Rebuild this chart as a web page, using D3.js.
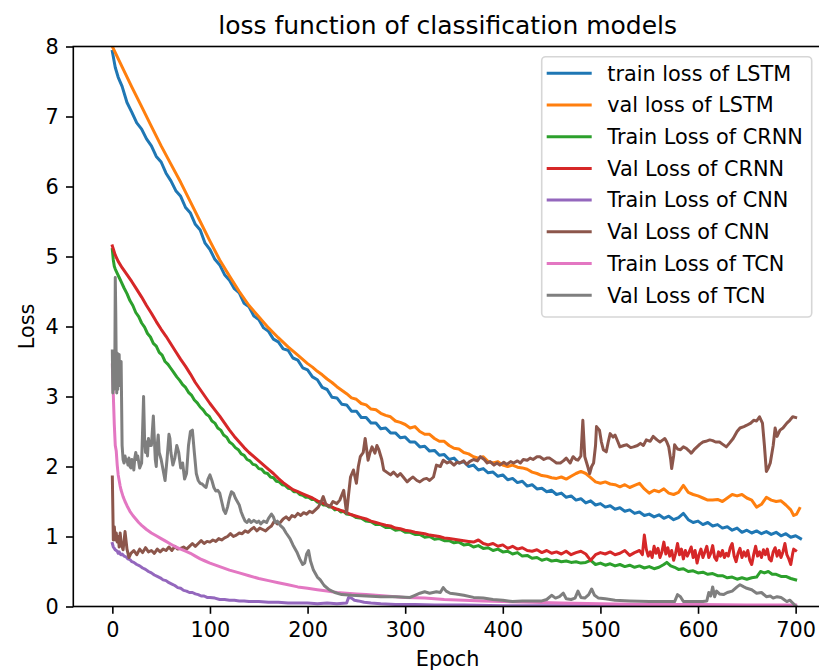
<!DOCTYPE html>
<html lang="en">
<head>
<meta charset="utf-8">
<title>loss function of classification models</title>
<style>
body { margin: 0; background: #fff; }
svg text { font-family: "DejaVu Sans", sans-serif; fill: #000; }
</style>
</head>
<body>
<script src="https://d3js.org/d3.v7.min.js"></script>
<script>

// legend labels, in plotting order
var seriesNames = ["train loss of LSTM", "val loss of LSTM", "Train Loss of CRNN", "Val Loss of CRNN",
                   "Train Loss of CNN", "Val Loss of CNN", "Train Loss of TCN", "Val Loss of TCN"];
var seriesColors = ["#1f77b4", "#ff7f0e", "#2ca02c", "#d62728", "#9467bd", "#8c564b", "#e377c2", "#7f7f7f"];

var xTicks = [0, 100, 200, 300, 400, 500, 600, 700];
var yTicks = [0, 1, 2, 3, 4, 5, 6, 7, 8];

// [epoch, loss]
var lstmTrain = [[0,7.93],[3,7.70],[6,7.56],[10,7.43],[15,7.20],[20,7.06],[25,6.91],[30,6.82],[35,6.68],[40,6.58],[45,6.43],[50,6.35],[55,6.19],[60,6.08],[65,5.94],[70,5.86],[75,5.70],[80,5.62],[85,5.46],[90,5.38],[95,5.19],[100,5.10],[105,4.96],[110,4.88],[115,4.74],[120,4.66],[125,4.54],[130,4.48],[135,4.33],[140,4.28],[145,4.15],[150,4.10],[155,3.98],[160,3.93],[165,3.82],[170,3.78],[175,3.68],[180,3.66],[185,3.55],[190,3.52],[195,3.41],[200,3.38],[205,3.28],[210,3.24],[215,3.13],[220,3.10],[225,2.99],[230,2.98],[235,2.89],[240,2.88],[245,2.79],[250,2.79],[255,2.70],[260,2.70],[265,2.62],[270,2.62],[275,2.54],[280,2.55],[285,2.48],[290,2.48],[295,2.41],[300,2.42],[305,2.35],[310,2.35],[315,2.28],[320,2.29],[325,2.22],[330,2.23],[335,2.16],[340,2.17],[345,2.10],[350,2.12],[355,2.05],[360,2.07],[365,2.00],[370,2.02],[375,1.95],[380,1.97],[385,1.91],[390,1.92],[395,1.86],[400,1.88],[405,1.81],[410,1.83],[415,1.77],[420,1.79],[425,1.72],[430,1.74],[435,1.68],[440,1.69],[445,1.64],[450,1.66],[455,1.60],[460,1.62],[465,1.56],[470,1.58],[475,1.52],[480,1.54],[485,1.48],[490,1.51],[495,1.45],[500,1.47],[505,1.42],[510,1.44],[515,1.39],[520,1.41],[525,1.36],[530,1.38],[535,1.33],[540,1.35],[545,1.30],[550,1.32],[555,1.28],[560,1.31],[565,1.26],[570,1.29],[575,1.24],[580,1.27],[585,1.33],[590,1.24],[595,1.20],[600,1.22],[605,1.17],[610,1.20],[615,1.15],[620,1.17],[625,1.12],[630,1.14],[635,1.09],[640,1.12],[645,1.06],[650,1.09],[655,1.05],[660,1.08],[665,1.04],[670,1.07],[675,1.03],[680,1.06],[685,1.01],[690,1.04],[695,0.99],[700,1.01],[705,0.97]];

var lstmVal = [[0,8.0],[10,7.71],[20,7.42],[30,7.14],[40,6.86],[50,6.58],[60,6.32],[70,6.06],[80,5.78],[90,5.5],[100,5.22],[110,4.95],[120,4.72],[130,4.5],[140,4.3],[150,4.14],[160,3.98],[170,3.84],[180,3.71],[190,3.59],[200,3.47],[205,3.42],[210,3.36],[215,3.31],[220,3.25],[225,3.2],[230,3.14],[235,3.09],[240,3.04],[245,2.98],[250,2.96],[255,2.9],[260,2.88],[265,2.82],[270,2.81],[275,2.76],[280,2.73],[285,2.71],[290,2.65],[295,2.63],[300,2.6],[305,2.55],[310,2.57],[315,2.5],[320,2.46],[325,2.46],[330,2.4],[335,2.36],[340,2.36],[345,2.3],[350,2.26],[355,2.25],[360,2.2],[365,2.18],[370,2.14],[375,2.12],[380,2.14],[385,2.07],[390,2.05],[395,2.07],[400,2.02],[405,2.0],[410,2.02],[415,1.99],[420,1.98],[425,1.96],[430,1.92],[435,1.9],[440,1.87],[445,1.86],[450,1.84],[455,1.83],[460,1.85],[465,1.82],[470,1.86],[475,1.9],[480,1.93],[485,1.9],[490,1.84],[495,1.78],[500,1.76],[505,1.78],[510,1.75],[515,1.74],[520,1.71],[525,1.74],[530,1.7],[535,1.73],[540,1.76],[545,1.68],[550,1.62],[555,1.66],[560,1.64],[565,1.68],[570,1.62],[575,1.6],[580,1.63],[585,1.73],[590,1.63],[595,1.6],[600,1.58],[605,1.55],[610,1.52],[615,1.52],[620,1.53],[625,1.5],[630,1.55],[635,1.6],[640,1.58],[645,1.6],[650,1.55],[655,1.52],[660,1.42],[665,1.46],[670,1.56],[675,1.52],[680,1.5],[685,1.51],[690,1.45],[695,1.38],[698,1.3],[701,1.32],[704,1.4]];

var crnnTrain = [[0,5.1],[1,4.95],[2,4.86],[3,4.82],[5,4.76],[7,4.7],[9,4.64],[12,4.55],[15,4.47],[18,4.37],[21,4.3],[24,4.2],[27,4.14],[30,4.05],[33,3.99],[36,3.9],[39,3.85],[42,3.76],[45,3.72],[48,3.63],[51,3.59],[54,3.5],[57,3.46],[60,3.4],[63,3.34],[66,3.28],[69,3.23],[72,3.17],[75,3.13],[78,3.06],[81,3.02],[84,2.95],[87,2.91],[90,2.85],[93,2.81],[96,2.75],[99,2.72],[102,2.65],[105,2.62],[108,2.55],[111,2.52],[114,2.45],[117,2.42],[120,2.35],[123,2.32],[126,2.27],[129,2.24],[132,2.18],[135,2.16],[138,2.1],[141,2.08],[144,2.03],[147,2.02],[150,1.97],[153,1.96],[156,1.91],[159,1.9],[162,1.85],[165,1.84],[168,1.79],[171,1.78],[174,1.74],[177,1.73],[180,1.69],[183,1.68],[186,1.64],[189,1.64],[192,1.6],[195,1.59],[198,1.56],[201,1.56],[204,1.53],[207,1.53],[210,1.49],[213,1.49],[216,1.45],[219,1.45],[222,1.42],[225,1.42],[228,1.38],[231,1.39],[234,1.35],[237,1.36],[240,1.32],[245,1.31],[250,1.27],[255,1.26],[260,1.22],[265,1.21],[270,1.17],[275,1.17],[280,1.13],[285,1.13],[290,1.09],[295,1.1],[300,1.06],[305,1.06],[310,1.03],[315,1.03],[320,0.99],[325,1.0],[330,0.96],[335,0.97],[340,0.94],[345,0.94],[350,0.91],[355,0.92],[360,0.88],[365,0.89],[370,0.85],[375,0.87],[380,0.83],[385,0.84],[390,0.8],[395,0.82],[400,0.78],[405,0.79],[410,0.75],[415,0.77],[420,0.72],[425,0.73],[430,0.69],[435,0.7],[440,0.66],[445,0.68],[450,0.65],[455,0.66],[460,0.64],[465,0.65],[470,0.63],[475,0.64],[480,0.62],[485,0.63],[490,0.66],[495,0.6],[500,0.62],[505,0.59],[510,0.61],[515,0.58],[520,0.6],[525,0.57],[530,0.59],[535,0.56],[540,0.58],[545,0.55],[550,0.57],[555,0.54],[560,0.56],[565,0.6],[568,0.63],[572,0.58],[576,0.56],[580,0.53],[585,0.54],[590,0.5],[595,0.51],[600,0.48],[605,0.49],[610,0.46],[615,0.47],[620,0.44],[625,0.44],[630,0.41],[635,0.42],[640,0.39],[645,0.41],[650,0.39],[655,0.41],[660,0.42],[664,0.5],[668,0.48],[672,0.5],[676,0.46],[680,0.46],[685,0.43],[690,0.43],[695,0.4],[700,0.38]];

var crnnVal = [[0,5.15],[3,5.02],[6,4.93],[10,4.84],[15,4.74],[20,4.64],[25,4.53],[30,4.42],[35,4.3],[40,4.19],[45,4.07],[50,3.96],[55,3.86],[60,3.75],[65,3.64],[70,3.53],[75,3.43],[80,3.32],[85,3.2],[90,3.1],[95,3.0],[100,2.9],[105,2.81],[110,2.72],[115,2.62],[120,2.52],[125,2.43],[130,2.35],[135,2.27],[140,2.2],[145,2.14],[150,2.08],[155,2.02],[160,1.96],[165,1.9],[170,1.83],[175,1.77],[180,1.72],[185,1.67],[190,1.64],[195,1.61],[200,1.58],[205,1.55],[210,1.51],[215,1.48],[220,1.45],[225,1.42],[230,1.39],[235,1.37],[240,1.34],[245,1.31],[250,1.29],[255,1.27],[260,1.25],[265,1.22],[270,1.2],[275,1.18],[280,1.16],[285,1.15],[290,1.12],[295,1.11],[300,1.09],[305,1.08],[310,1.06],[315,1.05],[320,1.04],[325,1.02],[330,1.01],[335,1.0],[340,0.98],[345,0.97],[350,0.96],[355,0.95],[360,0.94],[365,0.93],[370,0.92],[375,0.95],[380,0.9],[385,0.88],[390,0.9],[395,0.86],[400,0.88],[405,0.83],[410,0.86],[415,0.82],[420,0.84],[425,0.8],[430,0.79],[435,0.81],[440,0.77],[445,0.8],[450,0.76],[455,0.78],[460,0.75],[465,0.79],[470,0.74],[475,0.77],[480,0.79],[485,0.75],[490,0.66],[495,0.74],[500,0.77],[505,0.75],[510,0.78],[515,0.74],[520,0.76],[525,0.8],[530,0.73],[535,0.77],[540,0.8],[543,0.74],[545,1.02],[547,0.82],[549,0.72],[551,0.78],[553,0.7],[555,0.86],[557,0.76],[559,0.83],[561,0.7],[563,0.78],[565,0.92],[567,0.75],[569,0.84],[571,0.72],[573,0.8],[575,0.66],[577,0.76],[579,0.9],[581,0.74],[583,0.82],[585,0.68],[587,0.8],[589,0.72],[591,0.78],[593,0.85],[595,0.7],[597,0.8],[599,0.62],[601,0.74],[603,0.82],[605,0.7],[607,0.78],[609,0.86],[611,0.7],[613,0.76],[615,0.87],[617,0.7],[619,0.66],[621,0.78],[623,0.72],[625,0.8],[627,0.7],[629,0.76],[631,0.72],[633,0.84],[635,0.9],[637,0.72],[639,0.64],[641,0.76],[643,0.83],[645,0.7],[647,0.78],[649,0.72],[651,0.8],[653,0.66],[655,0.6],[657,0.74],[659,0.86],[661,0.72],[663,0.78],[665,0.7],[667,0.81],[669,0.74],[671,0.82],[673,0.68],[675,0.65],[677,0.78],[679,0.84],[681,0.72],[683,0.8],[685,0.7],[687,0.78],[689,0.9],[691,0.74],[693,0.68],[695,0.6],[697,0.76],[698,0.82],[700,0.8]];

var cnnTrain = [[0,0.9],[1,0.85],[2,0.83],[3,0.81],[4,0.8],[5,0.79],[6,0.76],[7,0.78],[8,0.75],[9,0.74],[10,0.75],[12,0.72],[14,0.71],[16,0.68],[18,0.67],[20,0.64],[22,0.63],[25,0.6],[28,0.58],[31,0.55],[34,0.53],[37,0.5],[40,0.48],[43,0.45],[46,0.43],[49,0.41],[52,0.38],[55,0.37],[58,0.34],[61,0.32],[64,0.3],[67,0.27],[70,0.26],[73,0.23],[76,0.22],[79,0.2],[82,0.2],[85,0.18],[88,0.17],[91,0.15],[94,0.15],[97,0.13],[100,0.13],[105,0.12],[110,0.1],[115,0.1],[120,0.09],[125,0.09],[130,0.08],[135,0.08],[140,0.07],[150,0.07],[160,0.06],[170,0.06],[180,0.05],[190,0.05],[200,0.05],[210,0.04],[220,0.05],[230,0.04],[240,0.05],[242,0.13],[245,0.12],[248,0.09],[252,0.08],[258,0.06],[265,0.05],[275,0.04],[290,0.03],[310,0.03],[330,0.02],[360,0.02],[400,0.01],[500,0.01],[600,0.01],[700,0.01]];

var cnnVal = [[0,1.85],[1,0.95],[2,1.14],[3,0.95],[4,1.05],[5,0.92],[6,1.0],[7,0.85],[8,1.05],[9,0.9],[11,0.81],[13,1.07],[15,0.82],[17,0.7],[19,0.76],[22,0.8],[25,0.74],[28,0.82],[31,0.77],[34,0.84],[37,0.78],[40,0.8],[43,0.76],[46,0.82],[49,0.78],[52,0.82],[55,0.8],[58,0.85],[61,0.8],[64,0.86],[67,0.82],[70,0.83],[73,0.85],[76,0.82],[79,0.86],[82,0.9],[85,0.86],[88,0.9],[91,0.94],[94,0.9],[97,0.93],[100,0.92],[103,0.95],[106,0.93],[109,0.97],[112,0.95],[115,0.98],[118,1.0],[121,1.04],[124,1.0],[127,1.02],[130,1.05],[133,1.04],[136,1.08],[139,1.06],[142,1.1],[145,1.13],[148,1.08],[151,1.12],[154,1.1],[157,1.08],[160,1.12],[163,1.15],[166,1.22],[169,1.18],[172,1.2],[175,1.25],[178,1.28],[181,1.24],[184,1.3],[187,1.28],[190,1.33],[193,1.3],[196,1.34],[199,1.32],[202,1.36],[205,1.34],[208,1.38],[211,1.42],[214,1.5],[216,1.57],[219,1.45],[223,1.43],[226,1.5],[230,1.47],[233,1.52],[237,1.66],[240,1.33],[242,1.6],[244,1.85],[247,1.95],[250,1.76],[252,2.0],[254,2.14],[257,2.2],[259,2.4],[262,2.09],[264,2.2],[266,2.28],[269,2.19],[271,2.3],[273,2.24],[276,2.1],[278,1.95],[281,1.92],[285,1.88],[288,1.92],[292,1.86],[295,1.9],[298,1.85],[302,1.78],[305,1.82],[308,1.85],[312,1.8],[315,1.78],[319,1.82],[322,1.83],[325,1.8],[329,1.85],[332,2.02],[336,2.0],[339,2.09],[343,2.05],[346,2.07],[350,2.02],[353,2.06],[356,2.05],[360,2.08],[363,2.03],[366,2.07],[370,2.1],[374,2.08],[377,2.14],[381,2.1],[384,2.05],[387,2.07],[391,2.02],[394,2.05],[397,2.02],[401,2.06],[404,2.03],[408,2.07],[411,2.05],[415,2.08],[418,2.05],[421,2.1],[425,2.09],[428,2.12],[431,2.1],[435,2.14],[438,2.14],[442,2.1],[445,2.12],[448,2.12],[452,2.08],[455,2.05],[459,2.05],[462,2.08],[465,2.12],[469,2.05],[472,2.14],[475,2.1],[477,2.09],[480,2.15],[482,2.66],[484,2.14],[487,2.0],[489,1.9],[491,2.0],[493,2.05],[495,2.3],[496,2.57],[499,2.52],[501,2.35],[503,2.24],[506,2.21],[508,2.35],[510,2.47],[513,2.42],[515,2.45],[518,2.35],[520,2.28],[524,2.3],[527,2.31],[531,2.27],[534,2.28],[538,2.3],[541,2.33],[544,2.3],[547,2.38],[551,2.36],[554,2.43],[558,2.38],[561,2.35],[564,2.38],[566,2.4],[568,2.35],[570,2.28],[572,2.1],[573,1.97],[575,2.15],[576,2.31],[579,2.25],[582,2.24],[585,2.28],[588,2.26],[591,2.22],[593,2.19],[596,2.24],[599,2.28],[602,2.32],[605,2.35],[608,2.36],[612,2.38],[615,2.37],[618,2.35],[622,2.35],[625,2.32],[629,2.28],[632,2.33],[636,2.4],[640,2.5],[643,2.55],[647,2.57],[650,2.59],[654,2.62],[657,2.66],[660,2.65],[663,2.71],[666,2.62],[668,2.3],[670,1.93],[672,1.98],[674,2.05],[677,2.3],[679,2.55],[681,2.43],[684,2.52],[687,2.55],[691,2.62],[694,2.66],[697,2.71],[700,2.7]];

var tcnTrain = [[0,3.45],[1,3.02],[2,2.6],[3,2.3],[4,2.22],[5,2.02],[6,1.88],[7,1.8],[8,1.72],[9,1.66],[11,1.57],[13,1.5],[15,1.44],[18,1.36],[21,1.3],[24,1.25],[27,1.2],[30,1.16],[35,1.1],[40,1.05],[45,1.01],[50,0.97],[55,0.93],[60,0.89],[65,0.85],[70,0.82],[75,0.79],[80,0.76],[85,0.72],[90,0.68],[95,0.65],[100,0.62],[110,0.57],[120,0.52],[130,0.48],[140,0.44],[150,0.4],[160,0.37],[170,0.34],[180,0.31],[190,0.28],[200,0.26],[210,0.24],[220,0.22],[230,0.2],[240,0.19],[250,0.18],[260,0.17],[270,0.16],[280,0.15],[300,0.13],[320,0.12],[340,0.1],[360,0.09],[380,0.08],[400,0.07],[430,0.06],[460,0.05],[500,0.04],[550,0.03],[600,0.03],[650,0.02],[700,0.02]];

var tcnVal = [[0,3.65],[0.5,3.05],[1,3.6],[1.5,3.1],[2,3.65],[2.5,3.3],[3,4.7],[3.5,4.2],[4,3.4],[4.5,3.05],[5,3.62],[5.5,3.1],[6,3.55],[6.5,3.15],[7,3.6],[7.5,3.2],[8,3.5],[8.5,3.25],[9,3.5],[10,2.3],[11,2.1],[12,2.05],[13,2.15],[14,2.08],[15,2.1],[16,2.02],[17,2.12],[18,2.0],[19,1.98],[20,2.1],[21,2.05],[22,1.95],[23,2.12],[24,2.2],[25,2.1],[26,2.15],[28,1.98],[30,2.05],[32,3.0],[33,2.4],[34,2.2],[35,2.35],[36,2.15],[37,2.4],[38,2.3],[40,2.3],[42,2.72],[43,2.4],[44,2.1],[45,2.0],[46,2.3],[47,2.45],[48,2.2],[50,2.1],[52,1.95],[54,1.8],[56,2.1],[58,2.46],[59,2.4],[60,2.2],[62,2.02],[64,2.12],[66,2.3],[68,2.2],[70,1.98],[72,2.05],[74,1.82],[76,1.9],[78,2.3],[80,2.5],[82,2.52],[84,2.2],[86,1.9],[88,1.8],[90,1.76],[92,1.75],[94,1.72],[96,1.7],[98,1.82],[100,1.88],[102,1.8],[104,1.7],[106,1.65],[108,1.66],[110,1.62],[112,1.5],[114,1.38],[116,1.33],[118,1.42],[120,1.55],[122,1.64],[124,1.62],[126,1.55],[128,1.5],[130,1.45],[132,1.35],[134,1.28],[136,1.22],[138,1.2],[140,1.24],[142,1.2],[145,1.23],[148,1.2],[150,1.22],[152,1.18],[155,1.22],[158,1.2],[160,1.26],[163,1.32],[165,1.28],[167,1.2],[169,1.22],[172,1.16],[175,1.12],[178,1.05],[182,0.97],[185,0.88],[189,0.78],[192,0.68],[195,0.6],[197,0.62],[199,0.75],[201,0.8],[203,0.65],[206,0.52],[210,0.42],[213,0.38],[217,0.3],[222,0.24],[228,0.2],[235,0.17],[245,0.16],[260,0.15],[275,0.14],[290,0.14],[305,0.13],[310,0.16],[315,0.19],[320,0.21],[325,0.19],[332,0.21],[336,0.2],[339,0.27],[342,0.22],[346,0.19],[352,0.18],[360,0.16],[370,0.13],[380,0.12],[390,0.1],[400,0.09],[410,0.07],[420,0.08],[430,0.08],[440,0.08],[445,0.1],[450,0.16],[454,0.12],[458,0.14],[462,0.19],[465,0.11],[470,0.1],[474,0.12],[477,0.22],[480,0.13],[484,0.12],[488,0.17],[491,0.25],[494,0.16],[498,0.12],[505,0.11],[515,0.09],[530,0.08],[550,0.07],[570,0.07],[576,0.07],[579,0.17],[582,0.14],[585,0.07],[595,0.07],[605,0.07],[609,0.08],[611,0.2],[613,0.15],[615,0.28],[617,0.14],[619,0.22],[622,0.18],[626,0.17],[630,0.2],[635,0.22],[640,0.28],[643,0.31],[647,0.28],[650,0.26],[655,0.24],[660,0.19],[665,0.2],[670,0.14],[674,0.15],[677,0.12],[681,0.14],[685,0.13],[688,0.1],[691,0.07],[694,0.09],[697,0.05],[700,0.01]];

var seriesData = [lstmTrain, lstmVal, crnnTrain, crnnVal, cnnTrain, cnnVal, tcnTrain, tcnVal];

var w = 819;
var h = 671;
var plotLeft = 73.3, plotRight = 822, plotTop = 46.5, plotBottom = 606.5;
var fs = 20.8;

var svg = d3.select("body")
        .append("svg")
        .attr("width", w)
        .attr("height", h);

var x = d3.scaleLinear().domain([-40, 727]).range([plotLeft, plotRight]);
var y = d3.scaleLinear().domain([0, 8]).range([plotBottom, plotTop]);

svg.append("clipPath").attr("id", "plotclip")
    .append("rect")
    .attr("x", plotLeft).attr("y", plotTop)
    .attr("width", plotRight - plotLeft).attr("height", plotBottom - plotTop);

var line = d3.line()
    .x(function(d) { return x(d[0]); })
    .y(function(d) { return y(d[1]); });

svg.append("g")
    .attr("clip-path", "url(#plotclip)")
    .selectAll("path")
    .data(seriesData)
    .enter()
    .append("path")
    .attr("d", line)
    .attr("fill", "none")
    .attr("stroke", function(d, i) { return seriesColors[i]; })
    .attr("stroke-width", 3)
    .attr("stroke-linejoin", "round")
    .attr("stroke-linecap", "square");

// axes
var xAxis = svg.append("g")
    .attr("transform", "translate(0," + plotBottom + ")")
    .call(d3.axisBottom(x).tickValues(xTicks).tickSize(7.3).tickSizeOuter(0).tickPadding(8.5));

var yAxis = svg.append("g")
    .attr("transform", "translate(" + plotLeft + ",0)")
    .call(d3.axisLeft(y).tickValues(yTicks).tickSize(7.3).tickSizeOuter(0).tickPadding(7.3));

[xAxis, yAxis].forEach(function(g) {
    g.attr("font-family", null).attr("font-size", null);
    g.select(".domain").remove();
    g.selectAll(".tick line").attr("stroke", "#000").attr("stroke-width", 1.6);
    g.selectAll(".tick text").style("font-size", fs + "px").attr("fill", "#000");
});

// spines
svg.append("rect")
    .attr("x", plotLeft).attr("y", plotTop)
    .attr("width", plotRight - plotLeft).attr("height", plotBottom - plotTop)
    .attr("fill", "none")
    .attr("stroke", "#000")
    .attr("stroke-width", 1.6);

svg.append("text")
    .attr("x", (plotLeft + plotRight) / 2).attr("y", 34)
    .attr("text-anchor", "middle")
    .style("font-size", "25px")
    .text("loss function of classification models");

svg.append("text")
    .attr("x", (plotLeft + plotRight) / 2).attr("y", 666)
    .attr("text-anchor", "middle")
    .style("font-size", fs + "px")
    .text("Epoch");

svg.append("text")
    .attr("transform", "translate(33.5," + ((plotTop + plotBottom) / 2) + ") rotate(-90)")
    .attr("text-anchor", "middle")
    .style("font-size", fs + "px")
    .text("Loss");

// legend
var lg = svg.append("g");
lg.append("rect")
    .attr("x", 541.7).attr("y", 56.7)
    .attr("width", 270).attr("height", 260.3)
    .attr("rx", 4).attr("ry", 4)
    .attr("fill", "#fff").attr("fill-opacity", 0.8)
    .attr("stroke", "#d6d6d6").attr("stroke-width", 1.6);

var entry = lg.selectAll("g.entry")
    .data(seriesNames)
    .enter()
    .append("g")
    .attr("transform", function(d, i) { return "translate(0," + (73.3 + i * 31.7) + ")"; });

entry.append("line")
    .attr("x1", 546.7).attr("x2", 591.7)
    .attr("stroke", function(d, i) { return seriesColors[i]; })
    .attr("stroke-width", 3);

entry.append("text")
    .attr("x", 607.3).attr("y", 7.3)
    .style("font-size", fs + "px")
    .text(function(d) { return d; });

</script>
</body>
</html>
